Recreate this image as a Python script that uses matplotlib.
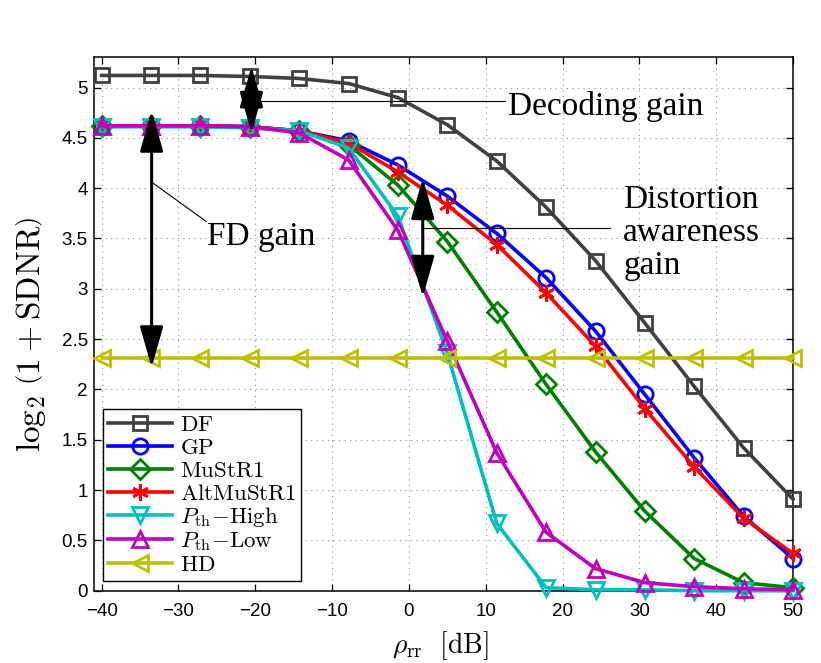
import matplotlib
matplotlib.use("Agg")
import matplotlib.pyplot as plt

# ------------------------------------------------------------
# data (rho_rr in dB vs log2(1 + SDNR))
# ------------------------------------------------------------
rho_db = [-40, -33.57, -27.14, -20.71, -14.29, -7.86, -1.43, 5,
          11.43, 17.86, 24.29, 30.71, 37.14, 43.57, 50]

df = [5.12, 5.12, 5.12, 5.11, 5.09, 5.04, 4.90, 4.63, 4.27, 3.81, 3.28, 2.66, 2.03, 1.42, 0.91]
gp = [4.62, 4.62, 4.62, 4.61, 4.57, 4.47, 4.23, 3.92, 3.55, 3.11, 2.58, 1.95, 1.32, 0.74, 0.32]
mustr1 = [4.62, 4.62, 4.62, 4.61, 4.57, 4.43, 4.03, 3.47, 2.77, 2.05, 1.38, 0.79, 0.32, 0.08, 0.03]
altmustr1 = [4.62, 4.62, 4.62, 4.61, 4.57, 4.45, 4.16, 3.83, 3.44, 2.96, 2.43, 1.81, 1.23, 0.72, 0.37]
pth_high = [4.61, 4.61, 4.61, 4.60, 4.57, 4.40, 3.72, 2.36, 0.67, 0.03, 0.01, 0.01, 0.0, 0.0, 0.0]
pth_low = [4.62, 4.62, 4.62, 4.61, 4.55, 4.28, 3.58, 2.48, 1.37, 0.58, 0.22, 0.08, 0.04, 0.02, 0.01]
hd = [2.31] * 15

labels = [r'$\mathrm{DF}$', r'$\mathrm{GP}$', r'$\mathrm{MuStR1}$', r'$\mathrm{AltMuStR1}$',
          r'$P_{\mathrm{th}}{-}\mathrm{High}$', r'$P_{\mathrm{th}}{-}\mathrm{Low}$', r'$\mathrm{HD}$']
xticks = [-40, -30, -20, -10, 0, 10, 20, 30, 40, 50]
yticks = [0, 0.5, 1, 1.5, 2, 2.5, 3, 3.5, 4, 4.5, 5]
ytick_labels = ['0', '0.5', '1', '1.5', '2', '2.5', '3', '3.5', '4', '4.5', '5']

# ------------------------------------------------------------
# style
# ------------------------------------------------------------
plt.rcParams['mathtext.fontset'] = 'cm'
plt.rcParams['font.family'] = ['Liberation Sans', 'DejaVu Sans']

series = [
    (df, '#404040', 's', 10),
    (gp, '#0000ff', 'o', 11),
    (mustr1, '#008000', 'D', 10),
    (altmustr1, '#ff0000', (6, 2, 0), 12),
    (pth_high, '#00bfbf', 'v', 12),
    (pth_low, '#bf00bf', '^', 12),
    (hd, '#bfbf00', '<', 12),
]

fig = plt.figure(figsize=(8.21, 6.63), dpi=100)
ax = fig.add_axes([0.1145, 0.109, 0.8514, 0.8045])

# HD first so it sits underneath the others
order = [6, 0, 1, 2, 3, 4, 5]
handles = [None] * 7
for i in order:
    y, c, m, ms = series[i]
    h, = ax.plot(rho_db, y, color=c, lw=2.6, marker=m, ms=ms, mfc='none',
                 mec=c, mew=2.0, clip_on=False, zorder=3 + i * 0.1)
    handles[i] = h

ax.set_xlim(-41, 50)
ax.set_ylim(0, 5.3)
ax.set_xticks(xticks)
ax.set_yticks(yticks)
ax.set_yticklabels(ytick_labels)
ax.tick_params(direction='in', length=5, width=0.9, top=True, right=True, labelsize=13.5)
ax.tick_params(axis='x', pad=9)
ax.tick_params(axis='y', pad=4.5)
for s in ax.spines.values():
    s.set_linewidth(1.1)
ax.grid(True, color='0.55', linestyle=(0, (1, 4)), linewidth=0.8)

ax.set_xlabel(r'$\rho_{\mathrm{rr}}\ \ [\mathrm{dB}]$', fontsize=20)
ax.xaxis.set_label_coords(0.495, -0.072)
ax.set_ylabel(r'$\log_2\,\left(1+\mathrm{SDNR}\right)$', fontsize=24)
ax.yaxis.set_label_coords(-0.066, 0.48)

# ------------------------------------------------------------
# gain arrows and labels
# ------------------------------------------------------------
arrow = dict(arrowstyle='<|-|>,head_length=1.4,head_width=0.4', color='k', lw=2.2,
             shrinkA=0, shrinkB=0, mutation_scale=18)
serif = ['Liberation Serif', 'DejaVu Serif']

# decoding gain
ax.annotate('', xy=(-20.5, 5.21), xytext=(-20.5, 4.55), arrowprops=arrow, zorder=6)
ax.plot([-20.5, 12.5], [4.87, 4.87], color='k', lw=0.8, zorder=6)
ax.text(12.9, 4.73, 'Decoding gain', family=serif, fontsize=24, va='baseline', ha='left')

# FD gain
ax.annotate('', xy=(-33.5, 4.77), xytext=(-33.5, 2.22), arrowprops=arrow, zorder=6)
ax.plot([-33.5, -26.4], [4.06, 3.67], color='k', lw=0.8, zorder=6)
ax.text(-26.3, 3.44, 'FD gain', family=serif, fontsize=24, va='baseline', ha='left')

# distortion awareness gain
ax.annotate('', xy=(1.8, 4.10), xytext=(1.8, 2.92), arrowprops=arrow, zorder=6)
ax.plot([1.8, 26.2], [3.60, 3.60], color='k', lw=0.8, zorder=6)
ax.text(27.9, 3.56, 'Distortion\nawareness\ngain', family=serif, fontsize=24,
        va='center', ha='left', linespacing=1.1)

# ------------------------------------------------------------
# legend
# ------------------------------------------------------------
leg = ax.legend(handles, labels, loc='lower left', bbox_to_anchor=(0.0129, 0.0187),
                borderaxespad=0, fontsize=16.5, handlelength=2.8, handletextpad=0.35,
                borderpad=0.2, labelspacing=0.0, handleheight=0.8,
                fancybox=False, framealpha=1, edgecolor='k')
leg.get_frame().set_linewidth(1.0)
leg.set_zorder(10)

fig.savefig('out.png', dpi=100)
